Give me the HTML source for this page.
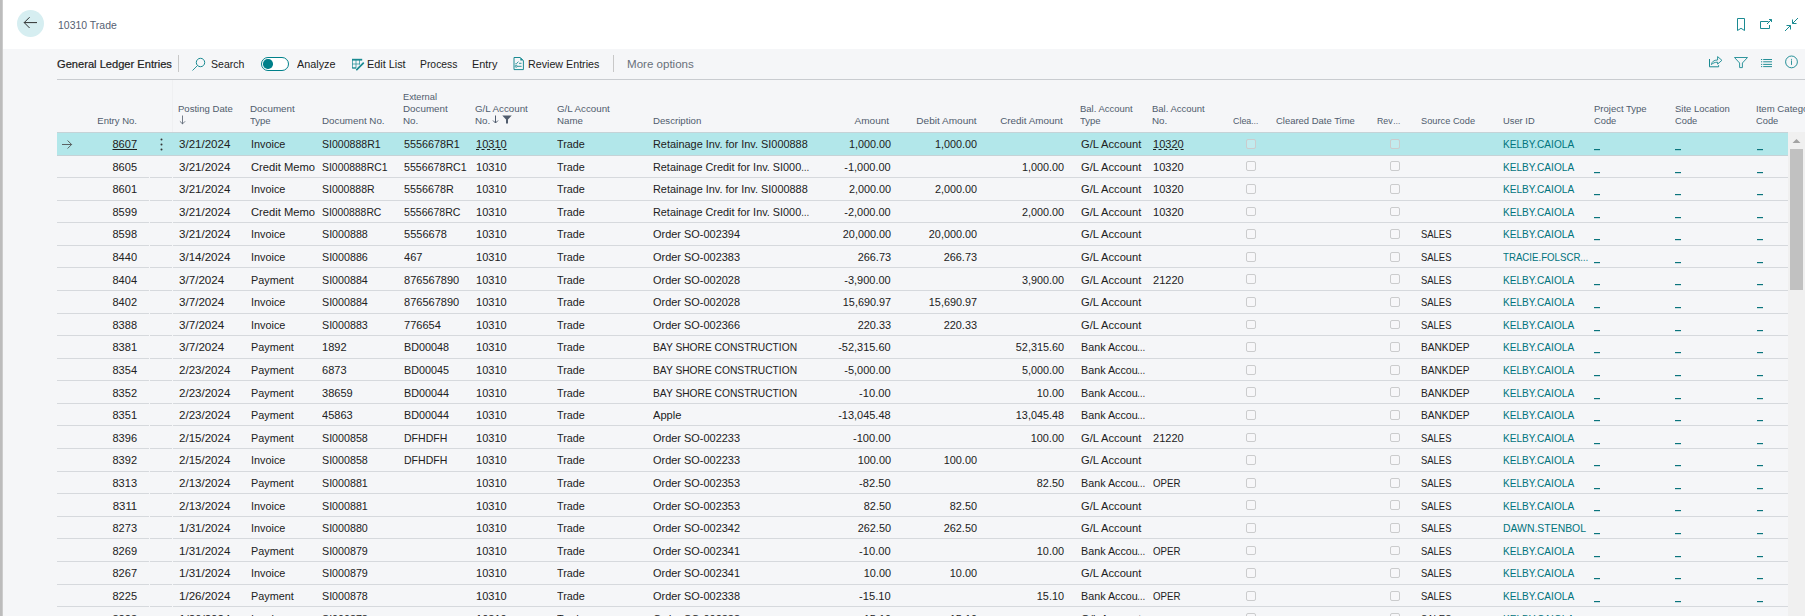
<!DOCTYPE html>
<html><head><meta charset="utf-8"><title>10310 Trade - General Ledger Entries</title>
<style>
*{box-sizing:border-box}
html,body{margin:0;padding:0}
body{width:1805px;height:616px;overflow:hidden;position:relative;background:#f5f6f8;font-family:"Liberation Sans",sans-serif;color:#212121}
.t,.abs{position:absolute;white-space:nowrap}
.stripe{position:absolute;left:0;top:0;width:3px;height:616px;background:linear-gradient(to right,#bcbcbc 0,#bcbcbc 2px,#dcdcdc 3px)}
.hdr{position:absolute;left:3px;top:0;width:1802px;height:49px;background:#fff}
.back{position:absolute;left:17px;top:10px;width:27px;height:27px;border-radius:50%;background:#d6eef1}
.h{color:#505c6d}
.teal{color:#00747d}
.sel{position:absolute;left:57px;width:1731px;background:#b2e7ea;border-top:1px solid #c5d3d7;border-bottom:1px solid #c5d3d7}
.ln{position:absolute;height:1px;background:#d6d9dd}
.cb{position:absolute;width:9.6px;height:9.8px;border:1px solid #cbcccd;border-radius:2px;background:rgba(255,255,255,0.2)}
</style></head><body>
<div class="stripe"></div>
<div class="hdr"></div>
<div class="back"></div>
<svg class="abs" style="left:23px;top:16px" width="15" height="14" viewBox="0 0 15 14"><path d="M1.2 6.6H14M6.6 1.2L1.2 6.6L6.6 12" fill="none" stroke="#262626" stroke-width="0.95"/></svg>

<div class="t " style="left:58.00px;top:18.50px;font-size:10.5px;line-height:12.60px;transform:scaleX(0.9975);transform-origin:left top;color:#566172">10310 Trade</div>
<svg class="abs" style="left:1735px;top:17px" width="12" height="15" viewBox="0 0 12 15"><path d="M2.5 1.5H9.5V13.5L6 11.3L2.5 13.5Z" fill="none" stroke="#1a8a92" stroke-width="1"/></svg>
<svg class="abs" style="left:1758px;top:17px" width="16" height="14" viewBox="0 0 16 14"><path d="M10.5 4.5H2.5V11.5H11.5V8" fill="none" stroke="#1a8a92" stroke-width="1"/><path d="M9 7L13.5 2.5M11 2.5H13.5V5" fill="none" stroke="#1a8a92" stroke-width="1"/></svg>
<svg class="abs" style="left:1783px;top:16px" width="17" height="17" viewBox="0 0 17 17"><path d="M15 2L9.5 7.5M9.5 3.5V7.5H13.5M2 15L7.5 9.5M3.5 9.5H7.5V13.5" fill="none" stroke="#1a8a92" stroke-width="1"/></svg>

<div class="t " style="left:57.00px;top:58.00px;font-size:11.1px;line-height:13.32px;transform:scaleX(1.0019);transform-origin:left top;-webkit-text-stroke:0.2px #212121">General Ledger Entries</div>
<div class="abs" style="left:178px;top:55px;width:1px;height:17px;background:#c8c8c8"></div>
<svg class="abs" style="left:191px;top:57px" width="16" height="15" viewBox="0 0 16 15"><circle cx="9.5" cy="5.5" r="4.2" fill="none" stroke="#1a8a92" stroke-width="1"/><path d="M6.5 8.5L1.5 13.5" stroke="#1a8a92" stroke-width="0.9"/></svg>
<div class="t " style="left:210.80px;top:58.00px;font-size:11.2px;line-height:13.44px;transform:scaleX(0.9415);transform-origin:left top;">Search</div>
<div class="abs" style="left:260.7px;top:57px;width:28.6px;height:14px;border:1.2px solid #00808a;border-radius:7px;background:#fff"></div>
<div class="abs" style="left:263.3px;top:59.3px;width:9.4px;height:9.4px;border-radius:50%;background:#00808a"></div>
<div class="t " style="left:297.00px;top:58.00px;font-size:11.2px;line-height:13.44px;transform:scaleX(0.9683);transform-origin:left top;">Analyze</div>
<svg class="abs" style="left:351px;top:57px" width="14" height="14" viewBox="0 0 14 14"><rect x="1" y="1.8" width="10.2" height="1.8" fill="#1a8a92"/><path d="M1.5 2V11.5H5M1 7H9M1 10.5H5M5 2.5V11M8.5 2.5V7.5" fill="none" stroke="#1a8a92" stroke-width="0.7"/><path d="M5.8 12.6L12.3 6.1" stroke="#1a8a92" stroke-width="1.8" stroke-linecap="round"/></svg>
<div class="t " style="left:367.00px;top:58.00px;font-size:11.2px;line-height:13.44px;transform:scaleX(0.9704);transform-origin:left top;">Edit List</div>
<div class="t " style="left:419.80px;top:58.00px;font-size:11.2px;line-height:13.44px;transform:scaleX(0.9265);transform-origin:left top;">Process</div>
<div class="t " style="left:471.60px;top:58.00px;font-size:11.2px;line-height:13.44px;transform:scaleX(0.9717);transform-origin:left top;">Entry</div>
<svg class="abs" style="left:512px;top:56px" width="13" height="15" viewBox="0 0 13 15"><path d="M2 1.5H8.3L11.4 4.6V13.6H2Z" fill="none" stroke="#1a8a92" stroke-width="1"/><path d="M8.3 1.5V4.6H11.4Z" fill="#1a8a92"/><path d="M3.3 7.8H4.4L6.4 5.6M7 7.3H9.5M5.2 10.3H9.6" fill="none" stroke="#1a8a92" stroke-width="0.9"/><circle cx="4.2" cy="10.3" r="1" fill="none" stroke="#1a8a92" stroke-width="0.8"/></svg>
<div class="t " style="left:528.00px;top:58.00px;font-size:11.2px;line-height:13.44px;transform:scaleX(0.9564);transform-origin:left top;">Review Entries</div>
<div class="abs" style="left:612.5px;top:55px;width:1px;height:17px;background:#c8c8c8"></div>
<div class="t " style="left:626.80px;top:58.00px;font-size:11.2px;line-height:13.44px;transform:scaleX(1.0334);transform-origin:left top;color:#68707a">More options</div>
<svg class="abs" style="left:1704px;top:52px" width="24" height="20" viewBox="0 0 24 20"><path d="M5.5 7V14.8H14.6V13.2" fill="none" stroke="#1a8a92" stroke-width="1"/><path d="M7.4 12.6C7.8 9.6 10 8 13.6 8V4.6L17.9 8.3L13.6 12.1V10.2C10.9 10.2 9 11 7.4 12.6Z" fill="none" stroke="#1a8a92" stroke-width="0.9" stroke-linejoin="round"/></svg>
<svg class="abs" style="left:1733px;top:56px" width="16" height="13" viewBox="0 0 16 13"><path d="M1.5 1.5H14.5L9.4 7V11.6H6.6V7Z" fill="none" stroke="#1a8a92" stroke-width="0.9" stroke-linejoin="miter"/></svg>
<svg class="abs" style="left:1760px;top:57px" width="13" height="11" viewBox="0 0 13 11"><path d="M1 2.5H2.2M3.2 2.5H12M1 4.8H2.2M3.2 4.8H12M1 7.4H2.2M3.2 7.4H12M1 9.6H2.2M3.2 9.6H12" fill="none" stroke="#1a8a92" stroke-width="0.95"/></svg>
<svg class="abs" style="left:1784px;top:55px" width="15" height="14" viewBox="0 0 15 14"><circle cx="7.5" cy="6.9" r="5.9" fill="none" stroke="#1a8a92" stroke-width="0.95"/><path d="M7.5 5.4V9.9" stroke="#1a8a92" stroke-width="0.9"/><circle cx="7.5" cy="4.3" r="0.55" fill="#1a8a92"/></svg>
<div class="abs" style="left:57px;top:79px;width:1748px;height:1px;background:#c9ccd0"></div>

<div class="t h" style="right:1668.50px;top:115.00px;font-size:9.6px;line-height:11.52px;transform:scaleX(0.9916);transform-origin:right top;">Entry No.</div>
<div class="t h" style="left:178.00px;top:103.10px;font-size:9.6px;line-height:11.52px;transform:scaleX(0.9957);transform-origin:left top;">Posting Date</div><div class="t h" style="left:178.00px;top:115.00px;font-size:9.6px;line-height:11.52px;transform:scaleX(1.0000);transform-origin:left top;"></div>
<div class="t h" style="left:250.00px;top:103.10px;font-size:9.6px;line-height:11.52px;transform:scaleX(1.0222);transform-origin:left top;">Document</div><div class="t h" style="left:250.00px;top:115.00px;font-size:9.6px;line-height:11.52px;transform:scaleX(0.9889);transform-origin:left top;">Type</div>
<div class="t h" style="left:321.70px;top:115.00px;font-size:9.6px;line-height:11.52px;transform:scaleX(1.0207);transform-origin:left top;">Document No.</div>
<div class="t h" style="left:403.10px;top:91.20px;font-size:9.6px;line-height:11.52px;transform:scaleX(0.9647);transform-origin:left top;">External</div><div class="t h" style="left:403.10px;top:103.10px;font-size:9.6px;line-height:11.52px;transform:scaleX(1.0222);transform-origin:left top;">Document</div><div class="t h" style="left:403.10px;top:115.00px;font-size:9.6px;line-height:11.52px;transform:scaleX(1.0224);transform-origin:left top;">No.</div>
<div class="t h" style="left:475.00px;top:103.10px;font-size:9.6px;line-height:11.52px;transform:scaleX(1.0171);transform-origin:left top;">G/L Account</div><div class="t h" style="left:475.00px;top:115.00px;font-size:9.6px;line-height:11.52px;transform:scaleX(1.0224);transform-origin:left top;">No.</div>
<div class="t h" style="left:556.50px;top:103.10px;font-size:9.6px;line-height:11.52px;transform:scaleX(1.0171);transform-origin:left top;">G/L Account</div><div class="t h" style="left:556.50px;top:115.00px;font-size:9.6px;line-height:11.52px;transform:scaleX(1.0096);transform-origin:left top;">Name</div>
<div class="t h" style="left:652.50px;top:115.00px;font-size:9.6px;line-height:11.52px;transform:scaleX(1.0058);transform-origin:left top;">Description</div>
<div class="t h" style="right:915.50px;top:115.00px;font-size:9.6px;line-height:11.52px;transform:scaleX(1.0440);transform-origin:right top;">Amount</div>
<div class="t h" style="right:828.80px;top:115.00px;font-size:9.6px;line-height:11.52px;transform:scaleX(1.0464);transform-origin:right top;">Debit Amount</div>
<div class="t h" style="right:742.50px;top:115.00px;font-size:9.6px;line-height:11.52px;transform:scaleX(1.0296);transform-origin:right top;">Credit Amount</div>
<div class="t h" style="left:1080.00px;top:103.10px;font-size:9.6px;line-height:11.52px;transform:scaleX(0.9886);transform-origin:left top;">Bal. Account</div><div class="t h" style="left:1080.00px;top:115.00px;font-size:9.6px;line-height:11.52px;transform:scaleX(0.9889);transform-origin:left top;">Type</div>
<div class="t h" style="left:1152.00px;top:103.10px;font-size:9.6px;line-height:11.52px;transform:scaleX(0.9886);transform-origin:left top;">Bal. Account</div><div class="t h" style="left:1152.00px;top:115.00px;font-size:9.6px;line-height:11.52px;transform:scaleX(1.0224);transform-origin:left top;">No.</div>
<div class="t h" style="left:1233.10px;top:115.00px;font-size:9.6px;line-height:11.52px;transform:scaleX(0.9253);transform-origin:left top;">Clea</div><div class="t h" style="left:1251.37px;top:115.00px;font-size:9.6px;line-height:11.52px;transform:scaleX(0.7800);transform-origin:left top;">…</div>
<div class="t h" style="left:1276.10px;top:115.00px;font-size:9.6px;line-height:11.52px;transform:scaleX(0.9855);transform-origin:left top;">Cleared Date Time</div>
<div class="t h" style="left:1377.20px;top:115.00px;font-size:9.6px;line-height:11.52px;transform:scaleX(0.9177);transform-origin:left top;">Rev</div><div class="t h" style="left:1392.87px;top:115.00px;font-size:9.6px;line-height:11.52px;transform:scaleX(0.7800);transform-origin:left top;">…</div>
<div class="t h" style="left:1420.50px;top:115.00px;font-size:9.6px;line-height:11.52px;transform:scaleX(0.9652);transform-origin:left top;">Source Code</div>
<div class="t h" style="left:1502.50px;top:115.00px;font-size:9.6px;line-height:11.52px;transform:scaleX(0.9728);transform-origin:left top;">User ID</div>
<div class="t h" style="left:1593.50px;top:103.10px;font-size:9.6px;line-height:11.52px;transform:scaleX(0.9899);transform-origin:left top;">Project Type</div><div class="t h" style="left:1593.50px;top:115.00px;font-size:9.6px;line-height:11.52px;transform:scaleX(0.9692);transform-origin:left top;">Code</div>
<div class="t h" style="left:1674.80px;top:103.10px;font-size:9.6px;line-height:11.52px;transform:scaleX(0.9872);transform-origin:left top;">Site Location</div><div class="t h" style="left:1674.80px;top:115.00px;font-size:9.6px;line-height:11.52px;transform:scaleX(0.9692);transform-origin:left top;">Code</div>
<div class="t h" style="left:1756.20px;top:103.10px;font-size:9.6px;line-height:11.52px;transform:scaleX(1.0014);transform-origin:left top;">Item Category</div><div class="t h" style="left:1756.20px;top:115.00px;font-size:9.6px;line-height:11.52px;transform:scaleX(0.9692);transform-origin:left top;">Code</div>
<svg class="abs" style="left:179px;top:114.5px" width="7" height="10" viewBox="0 0 7 10"><path d="M3.5 0.5V9M0.9 6.3L3.5 8.9L6.1 6.3" fill="none" stroke="#5a6472" stroke-width="0.85"/></svg>
<svg class="abs" style="left:492px;top:115px" width="7" height="9" viewBox="0 0 7 9"><path d="M3.5 0.5V8M1 5.5L3.5 8L6 5.5" fill="none" stroke="#505c6d" stroke-width="1"/></svg>
<svg class="abs" style="left:501.5px;top:114.5px" width="10" height="9" viewBox="0 0 10 9"><path d="M0.3 0.5H9.7L6 4.5V8.5H4V4.5Z" fill="#505c6d"/></svg>
<div class="abs" style="left:172px;top:80px;width:1px;height:52px;background:#eff0f2"></div>
<div class="sel" style="top:132px;height:24px"></div>
<div class="ln" style="left:57px;top:177.00px;width:92px"></div>
<div class="ln" style="left:150px;top:177.00px;width:22px"></div>
<div class="ln" style="left:173px;top:177.00px;width:1615px"></div>
<div class="ln" style="left:57px;top:200.00px;width:92px"></div>
<div class="ln" style="left:150px;top:200.00px;width:22px"></div>
<div class="ln" style="left:173px;top:200.00px;width:1615px"></div>
<div class="ln" style="left:57px;top:222.00px;width:92px"></div>
<div class="ln" style="left:150px;top:222.00px;width:22px"></div>
<div class="ln" style="left:173px;top:222.00px;width:1615px"></div>
<div class="ln" style="left:57px;top:245.00px;width:92px"></div>
<div class="ln" style="left:150px;top:245.00px;width:22px"></div>
<div class="ln" style="left:173px;top:245.00px;width:1615px"></div>
<div class="ln" style="left:57px;top:267.00px;width:92px"></div>
<div class="ln" style="left:150px;top:267.00px;width:22px"></div>
<div class="ln" style="left:173px;top:267.00px;width:1615px"></div>
<div class="ln" style="left:57px;top:290.00px;width:92px"></div>
<div class="ln" style="left:150px;top:290.00px;width:22px"></div>
<div class="ln" style="left:173px;top:290.00px;width:1615px"></div>
<div class="ln" style="left:57px;top:313.00px;width:92px"></div>
<div class="ln" style="left:150px;top:313.00px;width:22px"></div>
<div class="ln" style="left:173px;top:313.00px;width:1615px"></div>
<div class="ln" style="left:57px;top:335.00px;width:92px"></div>
<div class="ln" style="left:150px;top:335.00px;width:22px"></div>
<div class="ln" style="left:173px;top:335.00px;width:1615px"></div>
<div class="ln" style="left:57px;top:358.00px;width:92px"></div>
<div class="ln" style="left:150px;top:358.00px;width:22px"></div>
<div class="ln" style="left:173px;top:358.00px;width:1615px"></div>
<div class="ln" style="left:57px;top:380.00px;width:92px"></div>
<div class="ln" style="left:150px;top:380.00px;width:22px"></div>
<div class="ln" style="left:173px;top:380.00px;width:1615px"></div>
<div class="ln" style="left:57px;top:403.00px;width:92px"></div>
<div class="ln" style="left:150px;top:403.00px;width:22px"></div>
<div class="ln" style="left:173px;top:403.00px;width:1615px"></div>
<div class="ln" style="left:57px;top:425.00px;width:92px"></div>
<div class="ln" style="left:150px;top:425.00px;width:22px"></div>
<div class="ln" style="left:173px;top:425.00px;width:1615px"></div>
<div class="ln" style="left:57px;top:448.00px;width:92px"></div>
<div class="ln" style="left:150px;top:448.00px;width:22px"></div>
<div class="ln" style="left:173px;top:448.00px;width:1615px"></div>
<div class="ln" style="left:57px;top:471.00px;width:92px"></div>
<div class="ln" style="left:150px;top:471.00px;width:22px"></div>
<div class="ln" style="left:173px;top:471.00px;width:1615px"></div>
<div class="ln" style="left:57px;top:493.00px;width:92px"></div>
<div class="ln" style="left:150px;top:493.00px;width:22px"></div>
<div class="ln" style="left:173px;top:493.00px;width:1615px"></div>
<div class="ln" style="left:57px;top:516.00px;width:92px"></div>
<div class="ln" style="left:150px;top:516.00px;width:22px"></div>
<div class="ln" style="left:173px;top:516.00px;width:1615px"></div>
<div class="ln" style="left:57px;top:538.00px;width:92px"></div>
<div class="ln" style="left:150px;top:538.00px;width:22px"></div>
<div class="ln" style="left:173px;top:538.00px;width:1615px"></div>
<div class="ln" style="left:57px;top:561.00px;width:92px"></div>
<div class="ln" style="left:150px;top:561.00px;width:22px"></div>
<div class="ln" style="left:173px;top:561.00px;width:1615px"></div>
<div class="ln" style="left:57px;top:584.00px;width:92px"></div>
<div class="ln" style="left:150px;top:584.00px;width:22px"></div>
<div class="ln" style="left:173px;top:584.00px;width:1615px"></div>
<div class="ln" style="left:57px;top:606.00px;width:92px"></div>
<div class="ln" style="left:150px;top:606.00px;width:22px"></div>
<div class="ln" style="left:173px;top:606.00px;width:1615px"></div>
<div class="ln" style="left:57px;top:629.00px;width:92px"></div>
<div class="ln" style="left:150px;top:629.00px;width:22px"></div>
<div class="ln" style="left:173px;top:629.00px;width:1615px"></div>
<svg class="abs" style="left:61px;top:139.00px" width="12" height="10" viewBox="0 0 12 10"><path d="M1 5.5H10.6M6.6 1.5L10.6 5.5L6.6 9.5" fill="none" stroke="#4a4a4a" stroke-width="0.85"/></svg><div class="t " style="right:1668.00px;top:138.00px;font-size:10.8px;line-height:12.96px;transform:scaleX(1.0212);transform-origin:right top;text-decoration:underline">8607</div><svg class="abs" style="left:160px;top:138.00px" width="3" height="13" viewBox="0 0 3 13"><circle cx="1.5" cy="1.5" r="1" fill="#333"/><circle cx="1.5" cy="6.5" r="1" fill="#333"/><circle cx="1.5" cy="11.5" r="1" fill="#333"/></svg><div class="t " style="left:178.50px;top:138.00px;font-size:10.8px;line-height:12.96px;transform:scaleX(1.0700);transform-origin:left top;">3/21/2024</div><div class="t " style="left:250.50px;top:138.00px;font-size:10.8px;line-height:12.96px;transform:scaleX(1.0037);transform-origin:left top;">Invoice</div><div class="t " style="left:322.20px;top:138.00px;font-size:10.8px;line-height:12.96px;transform:scaleX(0.9780);transform-origin:left top;">SI000888R1</div><div class="t " style="left:403.60px;top:138.00px;font-size:10.8px;line-height:12.96px;transform:scaleX(1.0006);transform-origin:left top;">5556678R1</div><div class="t " style="left:475.50px;top:138.00px;font-size:10.8px;line-height:12.96px;transform:scaleX(1.0212);transform-origin:left top;text-decoration:underline dashed;text-underline-offset:1px">10310</div><div class="t " style="left:557.00px;top:138.00px;font-size:10.8px;line-height:12.96px;transform:scaleX(0.9993);transform-origin:left top;">Trade</div><div class="t " style="left:653.00px;top:138.00px;font-size:10.8px;line-height:12.96px;transform:scaleX(1.0095);transform-origin:left top;">Retainage Inv. for Inv. SI000888</div><div class="t " style="right:914.40px;top:138.00px;font-size:10.8px;line-height:12.96px;transform:scaleX(1.0007);transform-origin:right top;">1,000.00</div><div class="t " style="right:828.00px;top:138.00px;font-size:10.8px;line-height:12.96px;transform:scaleX(1.0007);transform-origin:right top;">1,000.00</div><div class="t " style="left:1080.50px;top:138.00px;font-size:10.8px;line-height:12.96px;transform:scaleX(1.0333);transform-origin:left top;">G/L Account</div><div class="t " style="left:1152.50px;top:138.00px;font-size:10.8px;line-height:12.96px;transform:scaleX(1.0212);transform-origin:left top;text-decoration:underline dashed;text-underline-offset:1px">10320</div><div class="cb" style="left:1246.4px;top:138.80px"></div><div class="cb" style="left:1390.0px;top:138.80px"></div><div class="t teal" style="left:1503.00px;top:138.00px;font-size:10.8px;line-height:12.96px;transform:scaleX(0.9355);transform-origin:left top;">KELBY.CAIOLA</div><div class="abs" style="left:1594.0px;top:149px;width:6px;height:1px;background:#0a747c;box-shadow:0 0.6px 0 rgba(0,116,125,0.3)"></div><div class="abs" style="left:1675.3px;top:149px;width:6px;height:1px;background:#0a747c;box-shadow:0 0.6px 0 rgba(0,116,125,0.3)"></div><div class="abs" style="left:1756.7px;top:149px;width:6px;height:1px;background:#0a747c;box-shadow:0 0.6px 0 rgba(0,116,125,0.3)"></div>
<div class="t " style="right:1668.00px;top:160.60px;font-size:10.8px;line-height:12.96px;transform:scaleX(1.0212);transform-origin:right top;">8605</div><div class="t " style="left:178.50px;top:160.60px;font-size:10.8px;line-height:12.96px;transform:scaleX(1.0700);transform-origin:left top;">3/21/2024</div><div class="t " style="left:250.50px;top:160.60px;font-size:10.8px;line-height:12.96px;transform:scaleX(1.0361);transform-origin:left top;">Credit Memo</div><div class="t " style="left:322.20px;top:160.60px;font-size:10.8px;line-height:12.96px;transform:scaleX(0.9653);transform-origin:left top;">SI000888RC1</div><div class="t " style="left:403.60px;top:160.60px;font-size:10.8px;line-height:12.96px;transform:scaleX(0.9844);transform-origin:left top;">5556678RC1</div><div class="t " style="left:475.50px;top:160.60px;font-size:10.8px;line-height:12.96px;transform:scaleX(1.0212);transform-origin:left top;">10310</div><div class="t " style="left:557.00px;top:160.60px;font-size:10.8px;line-height:12.96px;transform:scaleX(0.9993);transform-origin:left top;">Trade</div><div class="t " style="left:653.00px;top:160.60px;font-size:10.8px;line-height:12.96px;transform:scaleX(1.0049);transform-origin:left top;">Retainage Credit for Inv. SI000</div><div class="t " style="left:801.21px;top:160.60px;font-size:10.8px;line-height:12.96px;transform:scaleX(0.7800);transform-origin:left top;">…</div><div class="t " style="right:914.40px;top:160.60px;font-size:10.8px;line-height:12.96px;transform:scaleX(1.0159);transform-origin:right top;">-1,000.00</div><div class="t " style="right:741.00px;top:160.60px;font-size:10.8px;line-height:12.96px;transform:scaleX(1.0007);transform-origin:right top;">1,000.00</div><div class="t " style="left:1080.50px;top:160.60px;font-size:10.8px;line-height:12.96px;transform:scaleX(1.0333);transform-origin:left top;">G/L Account</div><div class="t " style="left:1152.50px;top:160.60px;font-size:10.8px;line-height:12.96px;transform:scaleX(1.0212);transform-origin:left top;">10320</div><div class="cb" style="left:1246.4px;top:161.40px"></div><div class="cb" style="left:1390.0px;top:161.40px"></div><div class="t teal" style="left:1503.00px;top:160.60px;font-size:10.8px;line-height:12.96px;transform:scaleX(0.9355);transform-origin:left top;">KELBY.CAIOLA</div><div class="abs" style="left:1594.0px;top:172px;width:6px;height:1px;background:#0a747c;box-shadow:0 0.6px 0 rgba(0,116,125,0.3)"></div><div class="abs" style="left:1675.3px;top:172px;width:6px;height:1px;background:#0a747c;box-shadow:0 0.6px 0 rgba(0,116,125,0.3)"></div><div class="abs" style="left:1756.7px;top:172px;width:6px;height:1px;background:#0a747c;box-shadow:0 0.6px 0 rgba(0,116,125,0.3)"></div>
<div class="t " style="right:1668.00px;top:183.20px;font-size:10.8px;line-height:12.96px;transform:scaleX(1.0212);transform-origin:right top;">8601</div><div class="t " style="left:178.50px;top:183.20px;font-size:10.8px;line-height:12.96px;transform:scaleX(1.0700);transform-origin:left top;">3/21/2024</div><div class="t " style="left:250.50px;top:183.20px;font-size:10.8px;line-height:12.96px;transform:scaleX(1.0037);transform-origin:left top;">Invoice</div><div class="t " style="left:322.20px;top:183.20px;font-size:10.8px;line-height:12.96px;transform:scaleX(0.9732);transform-origin:left top;">SI000888R</div><div class="t " style="left:403.60px;top:183.20px;font-size:10.8px;line-height:12.96px;transform:scaleX(0.9981);transform-origin:left top;">5556678R</div><div class="t " style="left:475.50px;top:183.20px;font-size:10.8px;line-height:12.96px;transform:scaleX(1.0212);transform-origin:left top;">10310</div><div class="t " style="left:557.00px;top:183.20px;font-size:10.8px;line-height:12.96px;transform:scaleX(0.9993);transform-origin:left top;">Trade</div><div class="t " style="left:653.00px;top:183.20px;font-size:10.8px;line-height:12.96px;transform:scaleX(1.0095);transform-origin:left top;">Retainage Inv. for Inv. SI000888</div><div class="t " style="right:914.40px;top:183.20px;font-size:10.8px;line-height:12.96px;transform:scaleX(1.0007);transform-origin:right top;">2,000.00</div><div class="t " style="right:828.00px;top:183.20px;font-size:10.8px;line-height:12.96px;transform:scaleX(1.0007);transform-origin:right top;">2,000.00</div><div class="t " style="left:1080.50px;top:183.20px;font-size:10.8px;line-height:12.96px;transform:scaleX(1.0333);transform-origin:left top;">G/L Account</div><div class="t " style="left:1152.50px;top:183.20px;font-size:10.8px;line-height:12.96px;transform:scaleX(1.0212);transform-origin:left top;">10320</div><div class="cb" style="left:1246.4px;top:184.00px"></div><div class="cb" style="left:1390.0px;top:184.00px"></div><div class="t teal" style="left:1503.00px;top:183.20px;font-size:10.8px;line-height:12.96px;transform:scaleX(0.9355);transform-origin:left top;">KELBY.CAIOLA</div><div class="abs" style="left:1594.0px;top:194px;width:6px;height:1px;background:#0a747c;box-shadow:0 0.6px 0 rgba(0,116,125,0.3)"></div><div class="abs" style="left:1675.3px;top:194px;width:6px;height:1px;background:#0a747c;box-shadow:0 0.6px 0 rgba(0,116,125,0.3)"></div><div class="abs" style="left:1756.7px;top:194px;width:6px;height:1px;background:#0a747c;box-shadow:0 0.6px 0 rgba(0,116,125,0.3)"></div>
<div class="t " style="right:1668.00px;top:205.80px;font-size:10.8px;line-height:12.96px;transform:scaleX(1.0212);transform-origin:right top;">8599</div><div class="t " style="left:178.50px;top:205.80px;font-size:10.8px;line-height:12.96px;transform:scaleX(1.0700);transform-origin:left top;">3/21/2024</div><div class="t " style="left:250.50px;top:205.80px;font-size:10.8px;line-height:12.96px;transform:scaleX(1.0361);transform-origin:left top;">Credit Memo</div><div class="t " style="left:322.20px;top:205.80px;font-size:10.8px;line-height:12.96px;transform:scaleX(0.9599);transform-origin:left top;">SI000888RC</div><div class="t " style="left:403.60px;top:205.80px;font-size:10.8px;line-height:12.96px;transform:scaleX(0.9805);transform-origin:left top;">5556678RC</div><div class="t " style="left:475.50px;top:205.80px;font-size:10.8px;line-height:12.96px;transform:scaleX(1.0212);transform-origin:left top;">10310</div><div class="t " style="left:557.00px;top:205.80px;font-size:10.8px;line-height:12.96px;transform:scaleX(0.9993);transform-origin:left top;">Trade</div><div class="t " style="left:653.00px;top:205.80px;font-size:10.8px;line-height:12.96px;transform:scaleX(1.0049);transform-origin:left top;">Retainage Credit for Inv. SI000</div><div class="t " style="left:801.21px;top:205.80px;font-size:10.8px;line-height:12.96px;transform:scaleX(0.7800);transform-origin:left top;">…</div><div class="t " style="right:914.40px;top:205.80px;font-size:10.8px;line-height:12.96px;transform:scaleX(1.0159);transform-origin:right top;">-2,000.00</div><div class="t " style="right:741.00px;top:205.80px;font-size:10.8px;line-height:12.96px;transform:scaleX(1.0007);transform-origin:right top;">2,000.00</div><div class="t " style="left:1080.50px;top:205.80px;font-size:10.8px;line-height:12.96px;transform:scaleX(1.0333);transform-origin:left top;">G/L Account</div><div class="t " style="left:1152.50px;top:205.80px;font-size:10.8px;line-height:12.96px;transform:scaleX(1.0212);transform-origin:left top;">10320</div><div class="cb" style="left:1246.4px;top:206.60px"></div><div class="cb" style="left:1390.0px;top:206.60px"></div><div class="t teal" style="left:1503.00px;top:205.80px;font-size:10.8px;line-height:12.96px;transform:scaleX(0.9355);transform-origin:left top;">KELBY.CAIOLA</div><div class="abs" style="left:1594.0px;top:217px;width:6px;height:1px;background:#0a747c;box-shadow:0 0.6px 0 rgba(0,116,125,0.3)"></div><div class="abs" style="left:1675.3px;top:217px;width:6px;height:1px;background:#0a747c;box-shadow:0 0.6px 0 rgba(0,116,125,0.3)"></div><div class="abs" style="left:1756.7px;top:217px;width:6px;height:1px;background:#0a747c;box-shadow:0 0.6px 0 rgba(0,116,125,0.3)"></div>
<div class="t " style="right:1668.00px;top:228.40px;font-size:10.8px;line-height:12.96px;transform:scaleX(1.0212);transform-origin:right top;">8598</div><div class="t " style="left:178.50px;top:228.40px;font-size:10.8px;line-height:12.96px;transform:scaleX(1.0700);transform-origin:left top;">3/21/2024</div><div class="t " style="left:250.50px;top:228.40px;font-size:10.8px;line-height:12.96px;transform:scaleX(1.0037);transform-origin:left top;">Invoice</div><div class="t " style="left:322.20px;top:228.40px;font-size:10.8px;line-height:12.96px;transform:scaleX(0.9900);transform-origin:left top;">SI000888</div><div class="t " style="left:403.60px;top:228.40px;font-size:10.8px;line-height:12.96px;transform:scaleX(1.0212);transform-origin:left top;">5556678</div><div class="t " style="left:475.50px;top:228.40px;font-size:10.8px;line-height:12.96px;transform:scaleX(1.0212);transform-origin:left top;">10310</div><div class="t " style="left:557.00px;top:228.40px;font-size:10.8px;line-height:12.96px;transform:scaleX(0.9993);transform-origin:left top;">Trade</div><div class="t " style="left:653.00px;top:228.40px;font-size:10.8px;line-height:12.96px;transform:scaleX(1.0136);transform-origin:left top;">Order SO-002394</div><div class="t " style="right:914.40px;top:228.40px;font-size:10.8px;line-height:12.96px;transform:scaleX(1.0033);transform-origin:right top;">20,000.00</div><div class="t " style="right:828.00px;top:228.40px;font-size:10.8px;line-height:12.96px;transform:scaleX(1.0033);transform-origin:right top;">20,000.00</div><div class="t " style="left:1080.50px;top:228.40px;font-size:10.8px;line-height:12.96px;transform:scaleX(1.0333);transform-origin:left top;">G/L Account</div><div class="cb" style="left:1246.4px;top:229.20px"></div><div class="cb" style="left:1390.0px;top:229.20px"></div><div class="t " style="left:1421.00px;top:228.40px;font-size:10.8px;line-height:12.96px;transform:scaleX(0.8748);transform-origin:left top;">SALES</div><div class="t teal" style="left:1503.00px;top:228.40px;font-size:10.8px;line-height:12.96px;transform:scaleX(0.9355);transform-origin:left top;">KELBY.CAIOLA</div><div class="abs" style="left:1594.0px;top:239px;width:6px;height:1px;background:#0a747c;box-shadow:0 0.6px 0 rgba(0,116,125,0.3)"></div><div class="abs" style="left:1675.3px;top:239px;width:6px;height:1px;background:#0a747c;box-shadow:0 0.6px 0 rgba(0,116,125,0.3)"></div><div class="abs" style="left:1756.7px;top:239px;width:6px;height:1px;background:#0a747c;box-shadow:0 0.6px 0 rgba(0,116,125,0.3)"></div>
<div class="t " style="right:1668.00px;top:251.00px;font-size:10.8px;line-height:12.96px;transform:scaleX(1.0212);transform-origin:right top;">8440</div><div class="t " style="left:178.50px;top:251.00px;font-size:10.8px;line-height:12.96px;transform:scaleX(1.0700);transform-origin:left top;">3/14/2024</div><div class="t " style="left:250.50px;top:251.00px;font-size:10.8px;line-height:12.96px;transform:scaleX(1.0037);transform-origin:left top;">Invoice</div><div class="t " style="left:322.20px;top:251.00px;font-size:10.8px;line-height:12.96px;transform:scaleX(0.9900);transform-origin:left top;">SI000886</div><div class="t " style="left:403.60px;top:251.00px;font-size:10.8px;line-height:12.96px;transform:scaleX(1.0212);transform-origin:left top;">467</div><div class="t " style="left:475.50px;top:251.00px;font-size:10.8px;line-height:12.96px;transform:scaleX(1.0212);transform-origin:left top;">10310</div><div class="t " style="left:557.00px;top:251.00px;font-size:10.8px;line-height:12.96px;transform:scaleX(0.9993);transform-origin:left top;">Trade</div><div class="t " style="left:653.00px;top:251.00px;font-size:10.8px;line-height:12.96px;transform:scaleX(1.0136);transform-origin:left top;">Order SO-002383</div><div class="t " style="right:914.40px;top:251.00px;font-size:10.8px;line-height:12.96px;transform:scaleX(1.0105);transform-origin:right top;">266.73</div><div class="t " style="right:828.00px;top:251.00px;font-size:10.8px;line-height:12.96px;transform:scaleX(1.0105);transform-origin:right top;">266.73</div><div class="t " style="left:1080.50px;top:251.00px;font-size:10.8px;line-height:12.96px;transform:scaleX(1.0333);transform-origin:left top;">G/L Account</div><div class="cb" style="left:1246.4px;top:251.80px"></div><div class="cb" style="left:1390.0px;top:251.80px"></div><div class="t " style="left:1421.00px;top:251.00px;font-size:10.8px;line-height:12.96px;transform:scaleX(0.8748);transform-origin:left top;">SALES</div><div class="t teal" style="left:1503.00px;top:251.00px;font-size:10.8px;line-height:12.96px;transform:scaleX(0.8956);transform-origin:left top;">TRACIE.FOLSCR</div><div class="t teal" style="left:1580.39px;top:251.00px;font-size:10.8px;line-height:12.96px;transform:scaleX(0.7800);transform-origin:left top;">…</div><div class="abs" style="left:1594.0px;top:262px;width:6px;height:1px;background:#0a747c;box-shadow:0 0.6px 0 rgba(0,116,125,0.3)"></div><div class="abs" style="left:1675.3px;top:262px;width:6px;height:1px;background:#0a747c;box-shadow:0 0.6px 0 rgba(0,116,125,0.3)"></div><div class="abs" style="left:1756.7px;top:262px;width:6px;height:1px;background:#0a747c;box-shadow:0 0.6px 0 rgba(0,116,125,0.3)"></div>
<div class="t " style="right:1668.00px;top:273.60px;font-size:10.8px;line-height:12.96px;transform:scaleX(1.0212);transform-origin:right top;">8404</div><div class="t " style="left:178.50px;top:273.60px;font-size:10.8px;line-height:12.96px;transform:scaleX(1.0769);transform-origin:left top;">3/7/2024</div><div class="t " style="left:250.50px;top:273.60px;font-size:10.8px;line-height:12.96px;transform:scaleX(1.0038);transform-origin:left top;">Payment</div><div class="t " style="left:322.20px;top:273.60px;font-size:10.8px;line-height:12.96px;transform:scaleX(0.9900);transform-origin:left top;">SI000884</div><div class="t " style="left:403.60px;top:273.60px;font-size:10.8px;line-height:12.96px;transform:scaleX(1.0212);transform-origin:left top;">876567890</div><div class="t " style="left:475.50px;top:273.60px;font-size:10.8px;line-height:12.96px;transform:scaleX(1.0212);transform-origin:left top;">10310</div><div class="t " style="left:557.00px;top:273.60px;font-size:10.8px;line-height:12.96px;transform:scaleX(0.9993);transform-origin:left top;">Trade</div><div class="t " style="left:653.00px;top:273.60px;font-size:10.8px;line-height:12.96px;transform:scaleX(1.0136);transform-origin:left top;">Order SO-002028</div><div class="t " style="right:914.40px;top:273.60px;font-size:10.8px;line-height:12.96px;transform:scaleX(1.0159);transform-origin:right top;">-3,900.00</div><div class="t " style="right:741.00px;top:273.60px;font-size:10.8px;line-height:12.96px;transform:scaleX(1.0007);transform-origin:right top;">3,900.00</div><div class="t " style="left:1080.50px;top:273.60px;font-size:10.8px;line-height:12.96px;transform:scaleX(1.0333);transform-origin:left top;">G/L Account</div><div class="t " style="left:1152.50px;top:273.60px;font-size:10.8px;line-height:12.96px;transform:scaleX(1.0212);transform-origin:left top;">21220</div><div class="cb" style="left:1246.4px;top:274.40px"></div><div class="cb" style="left:1390.0px;top:274.40px"></div><div class="t " style="left:1421.00px;top:273.60px;font-size:10.8px;line-height:12.96px;transform:scaleX(0.8748);transform-origin:left top;">SALES</div><div class="t teal" style="left:1503.00px;top:273.60px;font-size:10.8px;line-height:12.96px;transform:scaleX(0.9355);transform-origin:left top;">KELBY.CAIOLA</div><div class="abs" style="left:1594.0px;top:284px;width:6px;height:1px;background:#0a747c;box-shadow:0 0.6px 0 rgba(0,116,125,0.3)"></div><div class="abs" style="left:1675.3px;top:284px;width:6px;height:1px;background:#0a747c;box-shadow:0 0.6px 0 rgba(0,116,125,0.3)"></div><div class="abs" style="left:1756.7px;top:284px;width:6px;height:1px;background:#0a747c;box-shadow:0 0.6px 0 rgba(0,116,125,0.3)"></div>
<div class="t " style="right:1668.00px;top:296.20px;font-size:10.8px;line-height:12.96px;transform:scaleX(1.0212);transform-origin:right top;">8402</div><div class="t " style="left:178.50px;top:296.20px;font-size:10.8px;line-height:12.96px;transform:scaleX(1.0769);transform-origin:left top;">3/7/2024</div><div class="t " style="left:250.50px;top:296.20px;font-size:10.8px;line-height:12.96px;transform:scaleX(1.0037);transform-origin:left top;">Invoice</div><div class="t " style="left:322.20px;top:296.20px;font-size:10.8px;line-height:12.96px;transform:scaleX(0.9900);transform-origin:left top;">SI000884</div><div class="t " style="left:403.60px;top:296.20px;font-size:10.8px;line-height:12.96px;transform:scaleX(1.0212);transform-origin:left top;">876567890</div><div class="t " style="left:475.50px;top:296.20px;font-size:10.8px;line-height:12.96px;transform:scaleX(1.0212);transform-origin:left top;">10310</div><div class="t " style="left:557.00px;top:296.20px;font-size:10.8px;line-height:12.96px;transform:scaleX(0.9993);transform-origin:left top;">Trade</div><div class="t " style="left:653.00px;top:296.20px;font-size:10.8px;line-height:12.96px;transform:scaleX(1.0136);transform-origin:left top;">Order SO-002028</div><div class="t " style="right:914.40px;top:296.20px;font-size:10.8px;line-height:12.96px;transform:scaleX(1.0033);transform-origin:right top;">15,690.97</div><div class="t " style="right:828.00px;top:296.20px;font-size:10.8px;line-height:12.96px;transform:scaleX(1.0033);transform-origin:right top;">15,690.97</div><div class="t " style="left:1080.50px;top:296.20px;font-size:10.8px;line-height:12.96px;transform:scaleX(1.0333);transform-origin:left top;">G/L Account</div><div class="cb" style="left:1246.4px;top:297.00px"></div><div class="cb" style="left:1390.0px;top:297.00px"></div><div class="t " style="left:1421.00px;top:296.20px;font-size:10.8px;line-height:12.96px;transform:scaleX(0.8748);transform-origin:left top;">SALES</div><div class="t teal" style="left:1503.00px;top:296.20px;font-size:10.8px;line-height:12.96px;transform:scaleX(0.9355);transform-origin:left top;">KELBY.CAIOLA</div><div class="abs" style="left:1594.0px;top:307px;width:6px;height:1px;background:#0a747c;box-shadow:0 0.6px 0 rgba(0,116,125,0.3)"></div><div class="abs" style="left:1675.3px;top:307px;width:6px;height:1px;background:#0a747c;box-shadow:0 0.6px 0 rgba(0,116,125,0.3)"></div><div class="abs" style="left:1756.7px;top:307px;width:6px;height:1px;background:#0a747c;box-shadow:0 0.6px 0 rgba(0,116,125,0.3)"></div>
<div class="t " style="right:1668.00px;top:318.80px;font-size:10.8px;line-height:12.96px;transform:scaleX(1.0212);transform-origin:right top;">8388</div><div class="t " style="left:178.50px;top:318.80px;font-size:10.8px;line-height:12.96px;transform:scaleX(1.0769);transform-origin:left top;">3/7/2024</div><div class="t " style="left:250.50px;top:318.80px;font-size:10.8px;line-height:12.96px;transform:scaleX(1.0037);transform-origin:left top;">Invoice</div><div class="t " style="left:322.20px;top:318.80px;font-size:10.8px;line-height:12.96px;transform:scaleX(0.9900);transform-origin:left top;">SI000883</div><div class="t " style="left:403.60px;top:318.80px;font-size:10.8px;line-height:12.96px;transform:scaleX(1.0212);transform-origin:left top;">776654</div><div class="t " style="left:475.50px;top:318.80px;font-size:10.8px;line-height:12.96px;transform:scaleX(1.0212);transform-origin:left top;">10310</div><div class="t " style="left:557.00px;top:318.80px;font-size:10.8px;line-height:12.96px;transform:scaleX(0.9993);transform-origin:left top;">Trade</div><div class="t " style="left:653.00px;top:318.80px;font-size:10.8px;line-height:12.96px;transform:scaleX(1.0136);transform-origin:left top;">Order SO-002366</div><div class="t " style="right:914.40px;top:318.80px;font-size:10.8px;line-height:12.96px;transform:scaleX(1.0105);transform-origin:right top;">220.33</div><div class="t " style="right:828.00px;top:318.80px;font-size:10.8px;line-height:12.96px;transform:scaleX(1.0105);transform-origin:right top;">220.33</div><div class="t " style="left:1080.50px;top:318.80px;font-size:10.8px;line-height:12.96px;transform:scaleX(1.0333);transform-origin:left top;">G/L Account</div><div class="cb" style="left:1246.4px;top:319.60px"></div><div class="cb" style="left:1390.0px;top:319.60px"></div><div class="t " style="left:1421.00px;top:318.80px;font-size:10.8px;line-height:12.96px;transform:scaleX(0.8748);transform-origin:left top;">SALES</div><div class="t teal" style="left:1503.00px;top:318.80px;font-size:10.8px;line-height:12.96px;transform:scaleX(0.9355);transform-origin:left top;">KELBY.CAIOLA</div><div class="abs" style="left:1594.0px;top:330px;width:6px;height:1px;background:#0a747c;box-shadow:0 0.6px 0 rgba(0,116,125,0.3)"></div><div class="abs" style="left:1675.3px;top:330px;width:6px;height:1px;background:#0a747c;box-shadow:0 0.6px 0 rgba(0,116,125,0.3)"></div><div class="abs" style="left:1756.7px;top:330px;width:6px;height:1px;background:#0a747c;box-shadow:0 0.6px 0 rgba(0,116,125,0.3)"></div>
<div class="t " style="right:1668.00px;top:341.40px;font-size:10.8px;line-height:12.96px;transform:scaleX(1.0212);transform-origin:right top;">8381</div><div class="t " style="left:178.50px;top:341.40px;font-size:10.8px;line-height:12.96px;transform:scaleX(1.0769);transform-origin:left top;">3/7/2024</div><div class="t " style="left:250.50px;top:341.40px;font-size:10.8px;line-height:12.96px;transform:scaleX(1.0038);transform-origin:left top;">Payment</div><div class="t " style="left:322.20px;top:341.40px;font-size:10.8px;line-height:12.96px;transform:scaleX(1.0212);transform-origin:left top;">1892</div><div class="t " style="left:403.60px;top:341.40px;font-size:10.8px;line-height:12.96px;transform:scaleX(0.9987);transform-origin:left top;">BD00048</div><div class="t " style="left:475.50px;top:341.40px;font-size:10.8px;line-height:12.96px;transform:scaleX(1.0212);transform-origin:left top;">10310</div><div class="t " style="left:557.00px;top:341.40px;font-size:10.8px;line-height:12.96px;transform:scaleX(0.9993);transform-origin:left top;">Trade</div><div class="t " style="left:653.00px;top:341.40px;font-size:10.8px;line-height:12.96px;transform:scaleX(0.9478);transform-origin:left top;">BAY SHORE CONSTRUCTION</div><div class="t " style="right:914.40px;top:341.40px;font-size:10.8px;line-height:12.96px;transform:scaleX(1.0165);transform-origin:right top;">-52,315.60</div><div class="t " style="right:741.00px;top:341.40px;font-size:10.8px;line-height:12.96px;transform:scaleX(1.0033);transform-origin:right top;">52,315.60</div><div class="t " style="left:1080.50px;top:341.40px;font-size:10.8px;line-height:12.96px;transform:scaleX(0.9956);transform-origin:left top;">Bank Accou</div><div class="t " style="left:1137.28px;top:341.40px;font-size:10.8px;line-height:12.96px;transform:scaleX(0.7800);transform-origin:left top;">…</div><div class="cb" style="left:1246.4px;top:342.20px"></div><div class="cb" style="left:1390.0px;top:342.20px"></div><div class="t " style="left:1421.00px;top:341.40px;font-size:10.8px;line-height:12.96px;transform:scaleX(0.9398);transform-origin:left top;">BANKDEP</div><div class="t teal" style="left:1503.00px;top:341.40px;font-size:10.8px;line-height:12.96px;transform:scaleX(0.9355);transform-origin:left top;">KELBY.CAIOLA</div><div class="abs" style="left:1594.0px;top:352px;width:6px;height:1px;background:#0a747c;box-shadow:0 0.6px 0 rgba(0,116,125,0.3)"></div><div class="abs" style="left:1675.3px;top:352px;width:6px;height:1px;background:#0a747c;box-shadow:0 0.6px 0 rgba(0,116,125,0.3)"></div><div class="abs" style="left:1756.7px;top:352px;width:6px;height:1px;background:#0a747c;box-shadow:0 0.6px 0 rgba(0,116,125,0.3)"></div>
<div class="t " style="right:1668.00px;top:364.00px;font-size:10.8px;line-height:12.96px;transform:scaleX(1.0212);transform-origin:right top;">8354</div><div class="t " style="left:178.50px;top:364.00px;font-size:10.8px;line-height:12.96px;transform:scaleX(1.0700);transform-origin:left top;">2/23/2024</div><div class="t " style="left:250.50px;top:364.00px;font-size:10.8px;line-height:12.96px;transform:scaleX(1.0038);transform-origin:left top;">Payment</div><div class="t " style="left:322.20px;top:364.00px;font-size:10.8px;line-height:12.96px;transform:scaleX(1.0212);transform-origin:left top;">6873</div><div class="t " style="left:403.60px;top:364.00px;font-size:10.8px;line-height:12.96px;transform:scaleX(0.9987);transform-origin:left top;">BD00045</div><div class="t " style="left:475.50px;top:364.00px;font-size:10.8px;line-height:12.96px;transform:scaleX(1.0212);transform-origin:left top;">10310</div><div class="t " style="left:557.00px;top:364.00px;font-size:10.8px;line-height:12.96px;transform:scaleX(0.9993);transform-origin:left top;">Trade</div><div class="t " style="left:653.00px;top:364.00px;font-size:10.8px;line-height:12.96px;transform:scaleX(0.9478);transform-origin:left top;">BAY SHORE CONSTRUCTION</div><div class="t " style="right:914.40px;top:364.00px;font-size:10.8px;line-height:12.96px;transform:scaleX(1.0159);transform-origin:right top;">-5,000.00</div><div class="t " style="right:741.00px;top:364.00px;font-size:10.8px;line-height:12.96px;transform:scaleX(1.0007);transform-origin:right top;">5,000.00</div><div class="t " style="left:1080.50px;top:364.00px;font-size:10.8px;line-height:12.96px;transform:scaleX(0.9956);transform-origin:left top;">Bank Accou</div><div class="t " style="left:1137.28px;top:364.00px;font-size:10.8px;line-height:12.96px;transform:scaleX(0.7800);transform-origin:left top;">…</div><div class="cb" style="left:1246.4px;top:364.80px"></div><div class="cb" style="left:1390.0px;top:364.80px"></div><div class="t " style="left:1421.00px;top:364.00px;font-size:10.8px;line-height:12.96px;transform:scaleX(0.9398);transform-origin:left top;">BANKDEP</div><div class="t teal" style="left:1503.00px;top:364.00px;font-size:10.8px;line-height:12.96px;transform:scaleX(0.9355);transform-origin:left top;">KELBY.CAIOLA</div><div class="abs" style="left:1594.0px;top:375px;width:6px;height:1px;background:#0a747c;box-shadow:0 0.6px 0 rgba(0,116,125,0.3)"></div><div class="abs" style="left:1675.3px;top:375px;width:6px;height:1px;background:#0a747c;box-shadow:0 0.6px 0 rgba(0,116,125,0.3)"></div><div class="abs" style="left:1756.7px;top:375px;width:6px;height:1px;background:#0a747c;box-shadow:0 0.6px 0 rgba(0,116,125,0.3)"></div>
<div class="t " style="right:1668.00px;top:386.60px;font-size:10.8px;line-height:12.96px;transform:scaleX(1.0212);transform-origin:right top;">8352</div><div class="t " style="left:178.50px;top:386.60px;font-size:10.8px;line-height:12.96px;transform:scaleX(1.0700);transform-origin:left top;">2/23/2024</div><div class="t " style="left:250.50px;top:386.60px;font-size:10.8px;line-height:12.96px;transform:scaleX(1.0038);transform-origin:left top;">Payment</div><div class="t " style="left:322.20px;top:386.60px;font-size:10.8px;line-height:12.96px;transform:scaleX(1.0212);transform-origin:left top;">38659</div><div class="t " style="left:403.60px;top:386.60px;font-size:10.8px;line-height:12.96px;transform:scaleX(0.9987);transform-origin:left top;">BD00044</div><div class="t " style="left:475.50px;top:386.60px;font-size:10.8px;line-height:12.96px;transform:scaleX(1.0212);transform-origin:left top;">10310</div><div class="t " style="left:557.00px;top:386.60px;font-size:10.8px;line-height:12.96px;transform:scaleX(0.9993);transform-origin:left top;">Trade</div><div class="t " style="left:653.00px;top:386.60px;font-size:10.8px;line-height:12.96px;transform:scaleX(0.9478);transform-origin:left top;">BAY SHORE CONSTRUCTION</div><div class="t " style="right:914.40px;top:386.60px;font-size:10.8px;line-height:12.96px;transform:scaleX(1.0298);transform-origin:right top;">-10.00</div><div class="t " style="right:741.00px;top:386.60px;font-size:10.8px;line-height:12.96px;transform:scaleX(1.0081);transform-origin:right top;">10.00</div><div class="t " style="left:1080.50px;top:386.60px;font-size:10.8px;line-height:12.96px;transform:scaleX(0.9956);transform-origin:left top;">Bank Accou</div><div class="t " style="left:1137.28px;top:386.60px;font-size:10.8px;line-height:12.96px;transform:scaleX(0.7800);transform-origin:left top;">…</div><div class="cb" style="left:1246.4px;top:387.40px"></div><div class="cb" style="left:1390.0px;top:387.40px"></div><div class="t " style="left:1421.00px;top:386.60px;font-size:10.8px;line-height:12.96px;transform:scaleX(0.9398);transform-origin:left top;">BANKDEP</div><div class="t teal" style="left:1503.00px;top:386.60px;font-size:10.8px;line-height:12.96px;transform:scaleX(0.9355);transform-origin:left top;">KELBY.CAIOLA</div><div class="abs" style="left:1594.0px;top:398px;width:6px;height:1px;background:#0a747c;box-shadow:0 0.6px 0 rgba(0,116,125,0.3)"></div><div class="abs" style="left:1675.3px;top:398px;width:6px;height:1px;background:#0a747c;box-shadow:0 0.6px 0 rgba(0,116,125,0.3)"></div><div class="abs" style="left:1756.7px;top:398px;width:6px;height:1px;background:#0a747c;box-shadow:0 0.6px 0 rgba(0,116,125,0.3)"></div>
<div class="t " style="right:1668.00px;top:409.20px;font-size:10.8px;line-height:12.96px;transform:scaleX(1.0212);transform-origin:right top;">8351</div><div class="t " style="left:178.50px;top:409.20px;font-size:10.8px;line-height:12.96px;transform:scaleX(1.0700);transform-origin:left top;">2/23/2024</div><div class="t " style="left:250.50px;top:409.20px;font-size:10.8px;line-height:12.96px;transform:scaleX(1.0038);transform-origin:left top;">Payment</div><div class="t " style="left:322.20px;top:409.20px;font-size:10.8px;line-height:12.96px;transform:scaleX(1.0212);transform-origin:left top;">45863</div><div class="t " style="left:403.60px;top:409.20px;font-size:10.8px;line-height:12.96px;transform:scaleX(0.9987);transform-origin:left top;">BD00044</div><div class="t " style="left:475.50px;top:409.20px;font-size:10.8px;line-height:12.96px;transform:scaleX(1.0212);transform-origin:left top;">10310</div><div class="t " style="left:557.00px;top:409.20px;font-size:10.8px;line-height:12.96px;transform:scaleX(0.9993);transform-origin:left top;">Trade</div><div class="t " style="left:653.00px;top:409.20px;font-size:10.8px;line-height:12.96px;transform:scaleX(1.0293);transform-origin:left top;">Apple</div><div class="t " style="right:914.40px;top:409.20px;font-size:10.8px;line-height:12.96px;transform:scaleX(1.0165);transform-origin:right top;">-13,045.48</div><div class="t " style="right:741.00px;top:409.20px;font-size:10.8px;line-height:12.96px;transform:scaleX(1.0033);transform-origin:right top;">13,045.48</div><div class="t " style="left:1080.50px;top:409.20px;font-size:10.8px;line-height:12.96px;transform:scaleX(0.9956);transform-origin:left top;">Bank Accou</div><div class="t " style="left:1137.28px;top:409.20px;font-size:10.8px;line-height:12.96px;transform:scaleX(0.7800);transform-origin:left top;">…</div><div class="cb" style="left:1246.4px;top:410.00px"></div><div class="cb" style="left:1390.0px;top:410.00px"></div><div class="t " style="left:1421.00px;top:409.20px;font-size:10.8px;line-height:12.96px;transform:scaleX(0.9398);transform-origin:left top;">BANKDEP</div><div class="t teal" style="left:1503.00px;top:409.20px;font-size:10.8px;line-height:12.96px;transform:scaleX(0.9355);transform-origin:left top;">KELBY.CAIOLA</div><div class="abs" style="left:1594.0px;top:420px;width:6px;height:1px;background:#0a747c;box-shadow:0 0.6px 0 rgba(0,116,125,0.3)"></div><div class="abs" style="left:1675.3px;top:420px;width:6px;height:1px;background:#0a747c;box-shadow:0 0.6px 0 rgba(0,116,125,0.3)"></div><div class="abs" style="left:1756.7px;top:420px;width:6px;height:1px;background:#0a747c;box-shadow:0 0.6px 0 rgba(0,116,125,0.3)"></div>
<div class="t " style="right:1668.00px;top:431.80px;font-size:10.8px;line-height:12.96px;transform:scaleX(1.0212);transform-origin:right top;">8396</div><div class="t " style="left:178.50px;top:431.80px;font-size:10.8px;line-height:12.96px;transform:scaleX(1.0700);transform-origin:left top;">2/15/2024</div><div class="t " style="left:250.50px;top:431.80px;font-size:10.8px;line-height:12.96px;transform:scaleX(1.0038);transform-origin:left top;">Payment</div><div class="t " style="left:322.20px;top:431.80px;font-size:10.8px;line-height:12.96px;transform:scaleX(0.9900);transform-origin:left top;">SI000858</div><div class="t " style="left:403.60px;top:431.80px;font-size:10.8px;line-height:12.96px;transform:scaleX(0.9749);transform-origin:left top;">DFHDFH</div><div class="t " style="left:475.50px;top:431.80px;font-size:10.8px;line-height:12.96px;transform:scaleX(1.0212);transform-origin:left top;">10310</div><div class="t " style="left:557.00px;top:431.80px;font-size:10.8px;line-height:12.96px;transform:scaleX(0.9993);transform-origin:left top;">Trade</div><div class="t " style="left:653.00px;top:431.80px;font-size:10.8px;line-height:12.96px;transform:scaleX(1.0136);transform-origin:left top;">Order SO-002233</div><div class="t " style="right:914.40px;top:431.80px;font-size:10.8px;line-height:12.96px;transform:scaleX(1.0284);transform-origin:right top;">-100.00</div><div class="t " style="right:741.00px;top:431.80px;font-size:10.8px;line-height:12.96px;transform:scaleX(1.0105);transform-origin:right top;">100.00</div><div class="t " style="left:1080.50px;top:431.80px;font-size:10.8px;line-height:12.96px;transform:scaleX(1.0333);transform-origin:left top;">G/L Account</div><div class="t " style="left:1152.50px;top:431.80px;font-size:10.8px;line-height:12.96px;transform:scaleX(1.0212);transform-origin:left top;">21220</div><div class="cb" style="left:1246.4px;top:432.60px"></div><div class="cb" style="left:1390.0px;top:432.60px"></div><div class="t " style="left:1421.00px;top:431.80px;font-size:10.8px;line-height:12.96px;transform:scaleX(0.8748);transform-origin:left top;">SALES</div><div class="t teal" style="left:1503.00px;top:431.80px;font-size:10.8px;line-height:12.96px;transform:scaleX(0.9355);transform-origin:left top;">KELBY.CAIOLA</div><div class="abs" style="left:1594.0px;top:443px;width:6px;height:1px;background:#0a747c;box-shadow:0 0.6px 0 rgba(0,116,125,0.3)"></div><div class="abs" style="left:1675.3px;top:443px;width:6px;height:1px;background:#0a747c;box-shadow:0 0.6px 0 rgba(0,116,125,0.3)"></div><div class="abs" style="left:1756.7px;top:443px;width:6px;height:1px;background:#0a747c;box-shadow:0 0.6px 0 rgba(0,116,125,0.3)"></div>
<div class="t " style="right:1668.00px;top:454.40px;font-size:10.8px;line-height:12.96px;transform:scaleX(1.0212);transform-origin:right top;">8392</div><div class="t " style="left:178.50px;top:454.40px;font-size:10.8px;line-height:12.96px;transform:scaleX(1.0700);transform-origin:left top;">2/15/2024</div><div class="t " style="left:250.50px;top:454.40px;font-size:10.8px;line-height:12.96px;transform:scaleX(1.0037);transform-origin:left top;">Invoice</div><div class="t " style="left:322.20px;top:454.40px;font-size:10.8px;line-height:12.96px;transform:scaleX(0.9900);transform-origin:left top;">SI000858</div><div class="t " style="left:403.60px;top:454.40px;font-size:10.8px;line-height:12.96px;transform:scaleX(0.9749);transform-origin:left top;">DFHDFH</div><div class="t " style="left:475.50px;top:454.40px;font-size:10.8px;line-height:12.96px;transform:scaleX(1.0212);transform-origin:left top;">10310</div><div class="t " style="left:557.00px;top:454.40px;font-size:10.8px;line-height:12.96px;transform:scaleX(0.9993);transform-origin:left top;">Trade</div><div class="t " style="left:653.00px;top:454.40px;font-size:10.8px;line-height:12.96px;transform:scaleX(1.0136);transform-origin:left top;">Order SO-002233</div><div class="t " style="right:914.40px;top:454.40px;font-size:10.8px;line-height:12.96px;transform:scaleX(1.0105);transform-origin:right top;">100.00</div><div class="t " style="right:828.00px;top:454.40px;font-size:10.8px;line-height:12.96px;transform:scaleX(1.0105);transform-origin:right top;">100.00</div><div class="t " style="left:1080.50px;top:454.40px;font-size:10.8px;line-height:12.96px;transform:scaleX(1.0333);transform-origin:left top;">G/L Account</div><div class="cb" style="left:1246.4px;top:455.20px"></div><div class="cb" style="left:1390.0px;top:455.20px"></div><div class="t " style="left:1421.00px;top:454.40px;font-size:10.8px;line-height:12.96px;transform:scaleX(0.8748);transform-origin:left top;">SALES</div><div class="t teal" style="left:1503.00px;top:454.40px;font-size:10.8px;line-height:12.96px;transform:scaleX(0.9355);transform-origin:left top;">KELBY.CAIOLA</div><div class="abs" style="left:1594.0px;top:465px;width:6px;height:1px;background:#0a747c;box-shadow:0 0.6px 0 rgba(0,116,125,0.3)"></div><div class="abs" style="left:1675.3px;top:465px;width:6px;height:1px;background:#0a747c;box-shadow:0 0.6px 0 rgba(0,116,125,0.3)"></div><div class="abs" style="left:1756.7px;top:465px;width:6px;height:1px;background:#0a747c;box-shadow:0 0.6px 0 rgba(0,116,125,0.3)"></div>
<div class="t " style="right:1668.00px;top:477.00px;font-size:10.8px;line-height:12.96px;transform:scaleX(1.0212);transform-origin:right top;">8313</div><div class="t " style="left:178.50px;top:477.00px;font-size:10.8px;line-height:12.96px;transform:scaleX(1.0700);transform-origin:left top;">2/13/2024</div><div class="t " style="left:250.50px;top:477.00px;font-size:10.8px;line-height:12.96px;transform:scaleX(1.0038);transform-origin:left top;">Payment</div><div class="t " style="left:322.20px;top:477.00px;font-size:10.8px;line-height:12.96px;transform:scaleX(0.9900);transform-origin:left top;">SI000881</div><div class="t " style="left:475.50px;top:477.00px;font-size:10.8px;line-height:12.96px;transform:scaleX(1.0212);transform-origin:left top;">10310</div><div class="t " style="left:557.00px;top:477.00px;font-size:10.8px;line-height:12.96px;transform:scaleX(0.9993);transform-origin:left top;">Trade</div><div class="t " style="left:653.00px;top:477.00px;font-size:10.8px;line-height:12.96px;transform:scaleX(1.0136);transform-origin:left top;">Order SO-002353</div><div class="t " style="right:914.40px;top:477.00px;font-size:10.8px;line-height:12.96px;transform:scaleX(1.0298);transform-origin:right top;">-82.50</div><div class="t " style="right:741.00px;top:477.00px;font-size:10.8px;line-height:12.96px;transform:scaleX(1.0081);transform-origin:right top;">82.50</div><div class="t " style="left:1080.50px;top:477.00px;font-size:10.8px;line-height:12.96px;transform:scaleX(0.9956);transform-origin:left top;">Bank Accou</div><div class="t " style="left:1137.28px;top:477.00px;font-size:10.8px;line-height:12.96px;transform:scaleX(0.7800);transform-origin:left top;">…</div><div class="t " style="left:1152.50px;top:477.00px;font-size:10.8px;line-height:12.96px;transform:scaleX(0.8977);transform-origin:left top;">OPER</div><div class="cb" style="left:1246.4px;top:477.80px"></div><div class="cb" style="left:1390.0px;top:477.80px"></div><div class="t " style="left:1421.00px;top:477.00px;font-size:10.8px;line-height:12.96px;transform:scaleX(0.8748);transform-origin:left top;">SALES</div><div class="t teal" style="left:1503.00px;top:477.00px;font-size:10.8px;line-height:12.96px;transform:scaleX(0.9355);transform-origin:left top;">KELBY.CAIOLA</div><div class="abs" style="left:1594.0px;top:488px;width:6px;height:1px;background:#0a747c;box-shadow:0 0.6px 0 rgba(0,116,125,0.3)"></div><div class="abs" style="left:1675.3px;top:488px;width:6px;height:1px;background:#0a747c;box-shadow:0 0.6px 0 rgba(0,116,125,0.3)"></div><div class="abs" style="left:1756.7px;top:488px;width:6px;height:1px;background:#0a747c;box-shadow:0 0.6px 0 rgba(0,116,125,0.3)"></div>
<div class="t " style="right:1668.00px;top:499.60px;font-size:10.8px;line-height:12.96px;transform:scaleX(1.0564);transform-origin:right top;">8311</div><div class="t " style="left:178.50px;top:499.60px;font-size:10.8px;line-height:12.96px;transform:scaleX(1.0700);transform-origin:left top;">2/13/2024</div><div class="t " style="left:250.50px;top:499.60px;font-size:10.8px;line-height:12.96px;transform:scaleX(1.0037);transform-origin:left top;">Invoice</div><div class="t " style="left:322.20px;top:499.60px;font-size:10.8px;line-height:12.96px;transform:scaleX(0.9900);transform-origin:left top;">SI000881</div><div class="t " style="left:475.50px;top:499.60px;font-size:10.8px;line-height:12.96px;transform:scaleX(1.0212);transform-origin:left top;">10310</div><div class="t " style="left:557.00px;top:499.60px;font-size:10.8px;line-height:12.96px;transform:scaleX(0.9993);transform-origin:left top;">Trade</div><div class="t " style="left:653.00px;top:499.60px;font-size:10.8px;line-height:12.96px;transform:scaleX(1.0136);transform-origin:left top;">Order SO-002353</div><div class="t " style="right:914.40px;top:499.60px;font-size:10.8px;line-height:12.96px;transform:scaleX(1.0081);transform-origin:right top;">82.50</div><div class="t " style="right:828.00px;top:499.60px;font-size:10.8px;line-height:12.96px;transform:scaleX(1.0081);transform-origin:right top;">82.50</div><div class="t " style="left:1080.50px;top:499.60px;font-size:10.8px;line-height:12.96px;transform:scaleX(1.0333);transform-origin:left top;">G/L Account</div><div class="cb" style="left:1246.4px;top:500.40px"></div><div class="cb" style="left:1390.0px;top:500.40px"></div><div class="t " style="left:1421.00px;top:499.60px;font-size:10.8px;line-height:12.96px;transform:scaleX(0.8748);transform-origin:left top;">SALES</div><div class="t teal" style="left:1503.00px;top:499.60px;font-size:10.8px;line-height:12.96px;transform:scaleX(0.9355);transform-origin:left top;">KELBY.CAIOLA</div><div class="abs" style="left:1594.0px;top:510px;width:6px;height:1px;background:#0a747c;box-shadow:0 0.6px 0 rgba(0,116,125,0.3)"></div><div class="abs" style="left:1675.3px;top:510px;width:6px;height:1px;background:#0a747c;box-shadow:0 0.6px 0 rgba(0,116,125,0.3)"></div><div class="abs" style="left:1756.7px;top:510px;width:6px;height:1px;background:#0a747c;box-shadow:0 0.6px 0 rgba(0,116,125,0.3)"></div>
<div class="t " style="right:1668.00px;top:522.20px;font-size:10.8px;line-height:12.96px;transform:scaleX(1.0212);transform-origin:right top;">8273</div><div class="t " style="left:178.50px;top:522.20px;font-size:10.8px;line-height:12.96px;transform:scaleX(1.0700);transform-origin:left top;">1/31/2024</div><div class="t " style="left:250.50px;top:522.20px;font-size:10.8px;line-height:12.96px;transform:scaleX(1.0037);transform-origin:left top;">Invoice</div><div class="t " style="left:322.20px;top:522.20px;font-size:10.8px;line-height:12.96px;transform:scaleX(0.9900);transform-origin:left top;">SI000880</div><div class="t " style="left:475.50px;top:522.20px;font-size:10.8px;line-height:12.96px;transform:scaleX(1.0212);transform-origin:left top;">10310</div><div class="t " style="left:557.00px;top:522.20px;font-size:10.8px;line-height:12.96px;transform:scaleX(0.9993);transform-origin:left top;">Trade</div><div class="t " style="left:653.00px;top:522.20px;font-size:10.8px;line-height:12.96px;transform:scaleX(1.0136);transform-origin:left top;">Order SO-002342</div><div class="t " style="right:914.40px;top:522.20px;font-size:10.8px;line-height:12.96px;transform:scaleX(1.0105);transform-origin:right top;">262.50</div><div class="t " style="right:828.00px;top:522.20px;font-size:10.8px;line-height:12.96px;transform:scaleX(1.0105);transform-origin:right top;">262.50</div><div class="t " style="left:1080.50px;top:522.20px;font-size:10.8px;line-height:12.96px;transform:scaleX(1.0333);transform-origin:left top;">G/L Account</div><div class="cb" style="left:1246.4px;top:523.00px"></div><div class="cb" style="left:1390.0px;top:523.00px"></div><div class="t " style="left:1421.00px;top:522.20px;font-size:10.8px;line-height:12.96px;transform:scaleX(0.8748);transform-origin:left top;">SALES</div><div class="t teal" style="left:1503.00px;top:522.20px;font-size:10.8px;line-height:12.96px;transform:scaleX(0.9654);transform-origin:left top;">DAWN.STENBOL</div><div class="abs" style="left:1594.0px;top:533px;width:6px;height:1px;background:#0a747c;box-shadow:0 0.6px 0 rgba(0,116,125,0.3)"></div><div class="abs" style="left:1675.3px;top:533px;width:6px;height:1px;background:#0a747c;box-shadow:0 0.6px 0 rgba(0,116,125,0.3)"></div><div class="abs" style="left:1756.7px;top:533px;width:6px;height:1px;background:#0a747c;box-shadow:0 0.6px 0 rgba(0,116,125,0.3)"></div>
<div class="t " style="right:1668.00px;top:544.80px;font-size:10.8px;line-height:12.96px;transform:scaleX(1.0212);transform-origin:right top;">8269</div><div class="t " style="left:178.50px;top:544.80px;font-size:10.8px;line-height:12.96px;transform:scaleX(1.0700);transform-origin:left top;">1/31/2024</div><div class="t " style="left:250.50px;top:544.80px;font-size:10.8px;line-height:12.96px;transform:scaleX(1.0038);transform-origin:left top;">Payment</div><div class="t " style="left:322.20px;top:544.80px;font-size:10.8px;line-height:12.96px;transform:scaleX(0.9900);transform-origin:left top;">SI000879</div><div class="t " style="left:475.50px;top:544.80px;font-size:10.8px;line-height:12.96px;transform:scaleX(1.0212);transform-origin:left top;">10310</div><div class="t " style="left:557.00px;top:544.80px;font-size:10.8px;line-height:12.96px;transform:scaleX(0.9993);transform-origin:left top;">Trade</div><div class="t " style="left:653.00px;top:544.80px;font-size:10.8px;line-height:12.96px;transform:scaleX(1.0136);transform-origin:left top;">Order SO-002341</div><div class="t " style="right:914.40px;top:544.80px;font-size:10.8px;line-height:12.96px;transform:scaleX(1.0298);transform-origin:right top;">-10.00</div><div class="t " style="right:741.00px;top:544.80px;font-size:10.8px;line-height:12.96px;transform:scaleX(1.0081);transform-origin:right top;">10.00</div><div class="t " style="left:1080.50px;top:544.80px;font-size:10.8px;line-height:12.96px;transform:scaleX(0.9956);transform-origin:left top;">Bank Accou</div><div class="t " style="left:1137.28px;top:544.80px;font-size:10.8px;line-height:12.96px;transform:scaleX(0.7800);transform-origin:left top;">…</div><div class="t " style="left:1152.50px;top:544.80px;font-size:10.8px;line-height:12.96px;transform:scaleX(0.8977);transform-origin:left top;">OPER</div><div class="cb" style="left:1246.4px;top:545.60px"></div><div class="cb" style="left:1390.0px;top:545.60px"></div><div class="t " style="left:1421.00px;top:544.80px;font-size:10.8px;line-height:12.96px;transform:scaleX(0.8748);transform-origin:left top;">SALES</div><div class="t teal" style="left:1503.00px;top:544.80px;font-size:10.8px;line-height:12.96px;transform:scaleX(0.9355);transform-origin:left top;">KELBY.CAIOLA</div><div class="abs" style="left:1594.0px;top:556px;width:6px;height:1px;background:#0a747c;box-shadow:0 0.6px 0 rgba(0,116,125,0.3)"></div><div class="abs" style="left:1675.3px;top:556px;width:6px;height:1px;background:#0a747c;box-shadow:0 0.6px 0 rgba(0,116,125,0.3)"></div><div class="abs" style="left:1756.7px;top:556px;width:6px;height:1px;background:#0a747c;box-shadow:0 0.6px 0 rgba(0,116,125,0.3)"></div>
<div class="t " style="right:1668.00px;top:567.40px;font-size:10.8px;line-height:12.96px;transform:scaleX(1.0212);transform-origin:right top;">8267</div><div class="t " style="left:178.50px;top:567.40px;font-size:10.8px;line-height:12.96px;transform:scaleX(1.0700);transform-origin:left top;">1/31/2024</div><div class="t " style="left:250.50px;top:567.40px;font-size:10.8px;line-height:12.96px;transform:scaleX(1.0037);transform-origin:left top;">Invoice</div><div class="t " style="left:322.20px;top:567.40px;font-size:10.8px;line-height:12.96px;transform:scaleX(0.9900);transform-origin:left top;">SI000879</div><div class="t " style="left:475.50px;top:567.40px;font-size:10.8px;line-height:12.96px;transform:scaleX(1.0212);transform-origin:left top;">10310</div><div class="t " style="left:557.00px;top:567.40px;font-size:10.8px;line-height:12.96px;transform:scaleX(0.9993);transform-origin:left top;">Trade</div><div class="t " style="left:653.00px;top:567.40px;font-size:10.8px;line-height:12.96px;transform:scaleX(1.0136);transform-origin:left top;">Order SO-002341</div><div class="t " style="right:914.40px;top:567.40px;font-size:10.8px;line-height:12.96px;transform:scaleX(1.0081);transform-origin:right top;">10.00</div><div class="t " style="right:828.00px;top:567.40px;font-size:10.8px;line-height:12.96px;transform:scaleX(1.0081);transform-origin:right top;">10.00</div><div class="t " style="left:1080.50px;top:567.40px;font-size:10.8px;line-height:12.96px;transform:scaleX(1.0333);transform-origin:left top;">G/L Account</div><div class="cb" style="left:1246.4px;top:568.20px"></div><div class="cb" style="left:1390.0px;top:568.20px"></div><div class="t " style="left:1421.00px;top:567.40px;font-size:10.8px;line-height:12.96px;transform:scaleX(0.8748);transform-origin:left top;">SALES</div><div class="t teal" style="left:1503.00px;top:567.40px;font-size:10.8px;line-height:12.96px;transform:scaleX(0.9355);transform-origin:left top;">KELBY.CAIOLA</div><div class="abs" style="left:1594.0px;top:578px;width:6px;height:1px;background:#0a747c;box-shadow:0 0.6px 0 rgba(0,116,125,0.3)"></div><div class="abs" style="left:1675.3px;top:578px;width:6px;height:1px;background:#0a747c;box-shadow:0 0.6px 0 rgba(0,116,125,0.3)"></div><div class="abs" style="left:1756.7px;top:578px;width:6px;height:1px;background:#0a747c;box-shadow:0 0.6px 0 rgba(0,116,125,0.3)"></div>
<div class="t " style="right:1668.00px;top:590.00px;font-size:10.8px;line-height:12.96px;transform:scaleX(1.0212);transform-origin:right top;">8225</div><div class="t " style="left:178.50px;top:590.00px;font-size:10.8px;line-height:12.96px;transform:scaleX(1.0700);transform-origin:left top;">1/26/2024</div><div class="t " style="left:250.50px;top:590.00px;font-size:10.8px;line-height:12.96px;transform:scaleX(1.0038);transform-origin:left top;">Payment</div><div class="t " style="left:322.20px;top:590.00px;font-size:10.8px;line-height:12.96px;transform:scaleX(0.9900);transform-origin:left top;">SI000878</div><div class="t " style="left:475.50px;top:590.00px;font-size:10.8px;line-height:12.96px;transform:scaleX(1.0212);transform-origin:left top;">10310</div><div class="t " style="left:557.00px;top:590.00px;font-size:10.8px;line-height:12.96px;transform:scaleX(0.9993);transform-origin:left top;">Trade</div><div class="t " style="left:653.00px;top:590.00px;font-size:10.8px;line-height:12.96px;transform:scaleX(1.0136);transform-origin:left top;">Order SO-002338</div><div class="t " style="right:914.40px;top:590.00px;font-size:10.8px;line-height:12.96px;transform:scaleX(1.0298);transform-origin:right top;">-15.10</div><div class="t " style="right:741.00px;top:590.00px;font-size:10.8px;line-height:12.96px;transform:scaleX(1.0081);transform-origin:right top;">15.10</div><div class="t " style="left:1080.50px;top:590.00px;font-size:10.8px;line-height:12.96px;transform:scaleX(0.9956);transform-origin:left top;">Bank Accou</div><div class="t " style="left:1137.28px;top:590.00px;font-size:10.8px;line-height:12.96px;transform:scaleX(0.7800);transform-origin:left top;">…</div><div class="t " style="left:1152.50px;top:590.00px;font-size:10.8px;line-height:12.96px;transform:scaleX(0.8977);transform-origin:left top;">OPER</div><div class="cb" style="left:1246.4px;top:590.80px"></div><div class="cb" style="left:1390.0px;top:590.80px"></div><div class="t " style="left:1421.00px;top:590.00px;font-size:10.8px;line-height:12.96px;transform:scaleX(0.8748);transform-origin:left top;">SALES</div><div class="t teal" style="left:1503.00px;top:590.00px;font-size:10.8px;line-height:12.96px;transform:scaleX(0.9355);transform-origin:left top;">KELBY.CAIOLA</div><div class="abs" style="left:1594.0px;top:601px;width:6px;height:1px;background:#0a747c;box-shadow:0 0.6px 0 rgba(0,116,125,0.3)"></div><div class="abs" style="left:1675.3px;top:601px;width:6px;height:1px;background:#0a747c;box-shadow:0 0.6px 0 rgba(0,116,125,0.3)"></div><div class="abs" style="left:1756.7px;top:601px;width:6px;height:1px;background:#0a747c;box-shadow:0 0.6px 0 rgba(0,116,125,0.3)"></div>
<div class="t " style="right:1668.00px;top:612.60px;font-size:10.8px;line-height:12.96px;transform:scaleX(1.0212);transform-origin:right top;">8223</div><div class="t " style="left:178.50px;top:612.60px;font-size:10.8px;line-height:12.96px;transform:scaleX(1.0700);transform-origin:left top;">1/26/2024</div><div class="t " style="left:250.50px;top:612.60px;font-size:10.8px;line-height:12.96px;transform:scaleX(1.0037);transform-origin:left top;">Invoice</div><div class="t " style="left:322.20px;top:612.60px;font-size:10.8px;line-height:12.96px;transform:scaleX(0.9900);transform-origin:left top;">SI000878</div><div class="t " style="left:475.50px;top:612.60px;font-size:10.8px;line-height:12.96px;transform:scaleX(1.0212);transform-origin:left top;">10310</div><div class="t " style="left:557.00px;top:612.60px;font-size:10.8px;line-height:12.96px;transform:scaleX(0.9993);transform-origin:left top;">Trade</div><div class="t " style="left:653.00px;top:612.60px;font-size:10.8px;line-height:12.96px;transform:scaleX(1.0136);transform-origin:left top;">Order SO-002338</div><div class="t " style="right:914.40px;top:612.60px;font-size:10.8px;line-height:12.96px;transform:scaleX(1.0081);transform-origin:right top;">15.10</div><div class="t " style="right:828.00px;top:612.60px;font-size:10.8px;line-height:12.96px;transform:scaleX(1.0081);transform-origin:right top;">15.10</div><div class="t " style="left:1080.50px;top:612.60px;font-size:10.8px;line-height:12.96px;transform:scaleX(1.0333);transform-origin:left top;">G/L Account</div><div class="cb" style="left:1246.4px;top:613.40px"></div><div class="cb" style="left:1390.0px;top:613.40px"></div><div class="t " style="left:1421.00px;top:612.60px;font-size:10.8px;line-height:12.96px;transform:scaleX(0.8748);transform-origin:left top;">SALES</div><div class="t teal" style="left:1503.00px;top:612.60px;font-size:10.8px;line-height:12.96px;transform:scaleX(0.9355);transform-origin:left top;">KELBY.CAIOLA</div><div class="abs" style="left:1594.0px;top:624px;width:6px;height:1px;background:#0a747c;box-shadow:0 0.6px 0 rgba(0,116,125,0.3)"></div><div class="abs" style="left:1675.3px;top:624px;width:6px;height:1px;background:#0a747c;box-shadow:0 0.6px 0 rgba(0,116,125,0.3)"></div><div class="abs" style="left:1756.7px;top:624px;width:6px;height:1px;background:#0a747c;box-shadow:0 0.6px 0 rgba(0,116,125,0.3)"></div>
<div class="abs" style="left:1788px;top:132px;width:17px;height:484px;background:#f0f0f0"></div>
<svg class="abs" style="left:1791px;top:137px" width="11" height="7" viewBox="0 0 11 7"><path d="M1.5 6L5.5 2L9.5 6Z" fill="#a3a3a3"/></svg>
<div class="abs" style="left:1790.2px;top:149px;width:12.8px;height:141px;background:#c1c1c1"></div>

</body></html>
